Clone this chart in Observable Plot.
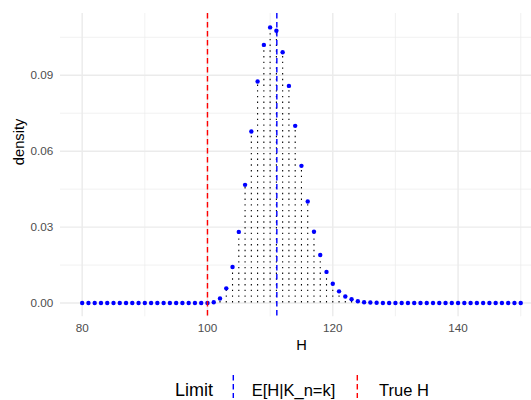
<!DOCTYPE html>
<html>
<head>
<meta charset="utf-8">
<script src="https://cdn.jsdelivr.net/npm/d3@7"></script>
<script src="https://cdn.jsdelivr.net/npm/@observablehq/plot@0.6"></script>
<style>
  html, body { margin: 0; padding: 0; background: white; overflow: hidden; }
  #chart svg { display: block; }
</style>
</head>
<body>
<div id="chart"></div>
<script>
// ---- data ----
const H = [80,81,82,83,84,85,86,87,88,89,90,91,92,93,94,95,96,97,98,99,100,
  101,102,103,104,105,106,107,108,109,110,111,112,113,114,115,116,117,118,119,120,
  121,122,123,124,125,126,127,128,129,130,131,132,133,134,135,136,137,138,139,140,
  141,142,143,144,145,146,147,148,149,150];
const density = [0,0,0,0,0,0,0,0,0,0,0,0,0,0,0,0,0,0,0,0,0,
  0.0003,0.0018,0.0058,0.0142,0.0281,0.0467,0.0678,0.0875,0.1020,0.1089,
  0.1076,0.0991,0.0858,0.0700,0.0542,0.0401,0.0282,0.0190,0.0123,0.0076,
  0.0046,0.0026,0.0015,0.0007,0.0003,0.0002,0.0001,0,0,0,
  0,0,0,0,0,0,0,0,0,0,0,0,0,0,0,0,0,0,0,0];
const limitLabels = ["E[H|K_n=k]", "True H"];
const limitValues = [111.07, 100];
const limitColors = ["blue", "red"];
const xMajor = [80, 100, 120, 140];
const xMinor = [90, 110, 130, 150];
const yMajor = [0, 0.03, 0.06, 0.09];
const yMinor = [0.015, 0.045, 0.075, 0.105];

const data = H.map((h, i) => ({H: h, density: density[i]}));
const limits = limitLabels.map((l, i) => ({label: l, value: limitValues[i], color: limitColors[i]}));

const font = "'Liberation Sans', Arial, Helvetica, sans-serif";
const grid = "#EBEBEB";
const dash = "5.5,3.5";

const chart = Plot.plot({
  width: 531,
  height: 355,
  marginLeft: 60,
  marginRight: 0,
  marginTop: 13,
  marginBottom: 38.7,
  style: {fontFamily: font, background: "white"},
  x: {domain: [76.54, 151.72]},
  y: {domain: [-0.00545, 0.1144]},
  marks: [
    Plot.gridX(xMinor, {stroke: grid, strokeOpacity: 1, strokeWidth: 0.71}),
    Plot.gridY(yMinor, {stroke: grid, strokeOpacity: 1, strokeWidth: 0.71}),
    Plot.gridX(xMajor, {stroke: grid, strokeOpacity: 1, strokeWidth: 1.42}),
    Plot.gridY(yMajor, {stroke: grid, strokeOpacity: 1, strokeWidth: 1.42}),
    Plot.axisX(xMajor, {tickSize: 0, tickPadding: 7, fill: "#4D4D4D", fontSize: 11.7, label: null}),
    Plot.axisY(yMajor, {tickSize: 0, tickPadding: 7.3, fill: "#4D4D4D", fontSize: 11.7, label: null, tickFormat: d3.format(".2f")}),
    Plot.ruleX(data, {x: "H", y1: 0, y2: "density", stroke: "black", strokeWidth: 1.1, strokeDasharray: "1.4,4.3"}),
    Plot.dot(data, {x: "H", y: "density", r: 2.2, fill: "blue"}),
    Plot.ruleX(limits, {x: "value", stroke: "color", strokeWidth: 1.42, strokeDasharray: dash}),
    Plot.text(["H"], {frameAnchor: "bottom", text: d => d, dx: 5.5, dy: 28.7, lineAnchor: "middle", fontSize: 14.67, fill: "black"}),
    Plot.text(["density"], {frameAnchor: "left", text: d => d, rotate: -90, dx: -41, lineAnchor: "middle", fontSize: 14.67, fill: "black"})
  ]
});
document.getElementById("chart").appendChild(chart);

// ---- legend below ----
const leg = d3.select("body").append("svg")
  .attr("width", 531).attr("height", 45)
  .style("display", "block")
  .style("font-family", font);
leg.append("text").attr("x", 175).attr("y", 41).attr("font-size", 18).attr("fill", "black").text("Limit");
const keyX = [233.3, 357.3];
const textX = [251.7, 379];
limits.forEach((d, i) => {
  leg.append("line").attr("x1", keyX[i]).attr("x2", keyX[i]).attr("y1", 20).attr("y2", 43)
    .attr("stroke", d.color).attr("stroke-width", 1.42).attr("stroke-dasharray", dash);
  leg.append("text").attr("x", textX[i]).attr("y", 41).attr("font-size", 16.5).attr("fill", "black").text(d.label);
});
</script>
</body>
</html>
